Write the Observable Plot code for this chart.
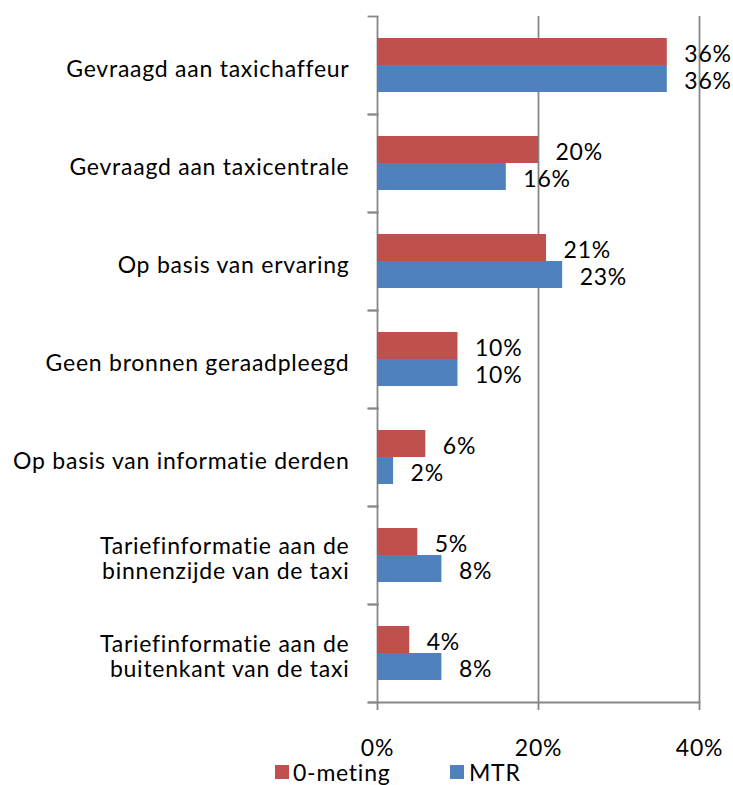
<!DOCTYPE html>
<html><head><meta charset="utf-8">
<script src="https://cdn.jsdelivr.net/npm/d3@7"></script>
<script src="https://cdn.jsdelivr.net/npm/@observablehq/plot@0.6"></script>
<style>
body{margin:0;background:#fff;font-family:Lato,sans-serif;}
svg{letter-spacing:0.75px;font-variant-ligatures:none;}
#legend{position:relative;height:22px;width:733px;font-size:23px;color:#000;letter-spacing:0.75px;font-variant-ligatures:none;}
#legend .sw{position:absolute;top:2px;width:14px;height:14px;}
#legend .lb{position:absolute;top:-4px;line-height:26px;white-space:nowrap;}
</style></head><body>
<div id="chart"></div>
<div id="legend"></div>
<script>
const categories = [
  "Gevraagd aan taxichaffeur",
  "Gevraagd aan taxicentrale",
  "Op basis van ervaring",
  "Geen bronnen geraadpleegd",
  "Op basis van informatie derden",
  "Tariefinformatie aan de\nbinnenzijde van de taxi",
  "Tariefinformatie aan de\nbuitenkant van de taxi"
];
const series = ["0-meting", "MTR"];
const nulmeting = [36, 20, 21, 10, 6, 5, 4];
const mtr = [36, 16, 23, 10, 2, 8, 8];
const xTicks = [0, 20, 40];
const colors = ["#C0504D", "#4F81BD"];

const data = categories.flatMap((c, i) => [
  {category: c, series: series[0], value: nulmeting[i]},
  {category: c, series: series[1], value: mtr[i]}
]);

const grey = "#878787";
const sw = 1.8;
const chart = Plot.plot({
  width: 733, height: 763,
  marginLeft: 377, marginRight: 34, marginTop: 13, marginBottom: 58,
  style: {fontFamily: "Lato, sans-serif", fontSize: "23px", color: "#000", background: "#fff", overflow: "visible"},
  x: {domain: [0, 40]},
  fy: {domain: categories, padding: 0},
  y: {domain: series, paddingInner: 0, paddingOuter: 0.79, axis: null},
  color: {domain: series, range: colors},
  marks: [
    Plot.ruleX(xTicks, {stroke: grey, strokeWidth: sw, strokeOpacity: 1}),
    Plot.frame({anchor: "top", insetLeft: -9, insetRight: 322, stroke: grey, strokeWidth: sw}),
    Plot.frame({anchor: "bottom", insetLeft: -9, insetRight: 322, stroke: grey, strokeWidth: sw}),
    Plot.frame({anchor: "bottom", insetLeft: -9, fy: [categories[categories.length - 1]], stroke: grey, strokeWidth: sw}),
    Plot.barX(data, {fy: "category", y: "series", x: "value", fill: "series"}),
    Plot.text(data, {fy: "category", y: "series", x: "value", text: d => d.value + "%", textAnchor: "start", dx: 17, dy: 3, fill: "#000"}),
    Plot.axisX({ticks: xTicks, tickFormat: d => d + "%", tickSize: 8, tickPadding: 29, stroke: grey, strokeWidth: sw, label: null, fill: "#000"}),
    Plot.axisFy({anchor: "left", tickSize: 0, tickPadding: 28, dy: 3, label: null, lineHeight: 1.1, fill: "#000"})
  ]
});
document.getElementById("chart").appendChild(chart);

const legend = document.getElementById("legend");
const legendX = [[275, 293], [450, 469]];
series.forEach((s, i) => {
  const sq = document.createElement("div");
  sq.className = "sw";
  sq.style.left = legendX[i][0] + "px";
  sq.style.background = colors[i];
  const lb = document.createElement("div");
  lb.className = "lb";
  lb.style.left = legendX[i][1] + "px";
  lb.textContent = s;
  legend.appendChild(sq);
  legend.appendChild(lb);
});
</script>
</body></html>
